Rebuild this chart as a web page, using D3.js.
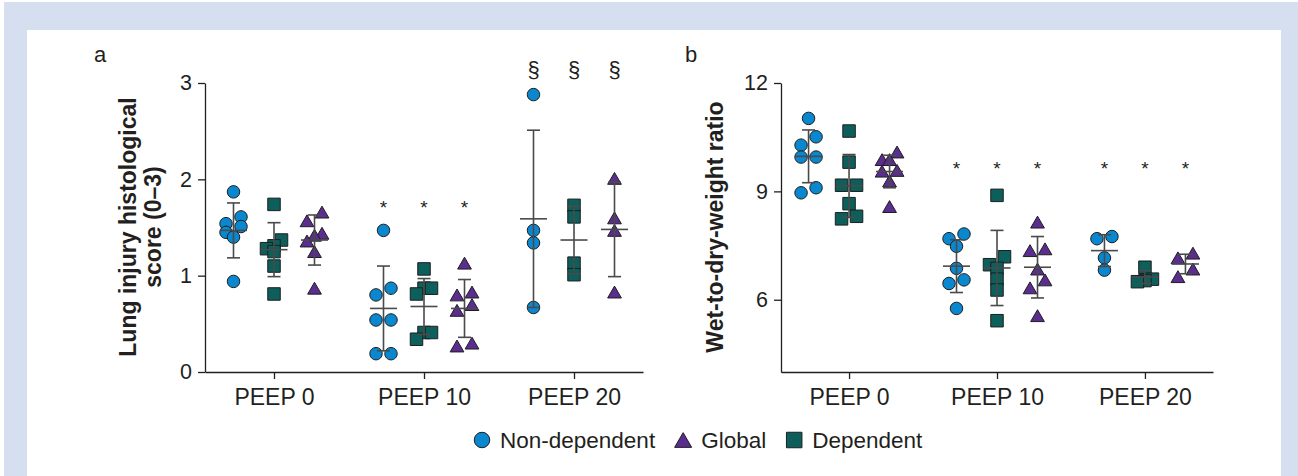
<!DOCTYPE html>
<html><head><meta charset="utf-8">
<script src="https://cdn.jsdelivr.net/npm/d3@7"></script>
<style>
body{margin:0;background:#fff}
svg{display:block}
text{font-family:"Liberation Sans",Arial,Helvetica,sans-serif;fill:#231f20}
</style>
</head><body>
<svg id="chart" width="1298" height="476"></svg>
<script>
// ---------------- DATA ----------------
const categories = ["PEEP 0", "PEEP 10", "PEEP 20"];
const seriesNames = ["Non-dependent", "Dependent", "Global"];
const legendOrder = ["Non-dependent", "Global", "Dependent"];

// Panel a: lung injury histological score (0–3)
const lungTicks = [0, 1, 2, 3];
const lungNonDependent = [
  [1.87, 1.61, 1.54, 1.51, 1.45, 1.40, 0.94],
  [1.47, 0.87, 0.80, 0.54, 0.54, 0.19, 0.19],
  [2.88, 1.47, 1.34, 0.67]
];
const lungNonDependentMean = [1.47, 0.66, 1.59];
const lungNonDependentSD = [0.285, 0.44, 0.92];

const lungDependent = [
  [1.74, 1.37, 1.31, 1.28, 1.25, 1.10, 0.81],
  [1.07, 0.87, 0.87, 0.81, 0.41, 0.41, 0.34],
  [1.73, 1.61, 1.13, 1.01]
];
const lungDependentMean = [1.27, 0.68, 1.37];
const lungDependentSD = [0.28, 0.29, 0.35];

const lungGlobal = [
  [1.66, 1.57, 1.44, 1.42, 1.36, 1.25, 0.87],
  [1.13, 0.83, 0.80, 0.70, 0.64, 0.30, 0.27],
  [2.01, 1.60, 1.47, 0.83]
];
const lungGlobalMean = [1.37, 0.66, 1.48];
const lungGlobalSD = [0.26, 0.30, 0.49];

const lungMarks = ["", "*", "§"];
const lungMarkValues = [0, 1.77, 3.14];

// Panel b: wet-to-dry-weight ratio
const wetTicks = [6, 9, 12];
const wetNonDependent = [
  [11.02, 10.51, 10.28, 9.95, 9.95, 9.10, 8.96],
  [7.82, 7.69, 7.48, 6.87, 6.55, 6.45, 5.76],
  [7.75, 7.69, 7.16, 6.82]
];
const wetNonDependentMean = [9.97, 6.93, 7.36];
const wetNonDependentSD = [0.73, 0.73, 0.44];

const wetDependent = [
  [10.67, 9.81, 9.17, 9.17, 8.66, 8.31, 8.24],
  [8.89, 7.19, 6.97, 6.87, 6.57, 6.27, 5.42],
  [6.90, 6.57, 6.53, 6.50]
];
const wetDependentMean = [9.15, 6.88, 6.63];
const wetDependentSD = [0.87, 1.04, 0.18];

const wetGlobal = [
  [10.09, 9.88, 9.88, 9.58, 9.56, 9.29, 8.58],
  [8.15, 7.41, 7.36, 6.85, 6.55, 6.33, 5.56],
  [7.29, 7.16, 6.85, 6.64]
];
const wetGlobalMean = [9.55, 6.90, 6.99];
const wetGlobalSD = [0.45, 0.85, 0.27];

const wetMarks = ["", "*", "*"];
const wetMarkValues = [0, 9.8, 9.8];

// ---------------- STYLE ----------------
const colors = {"Non-dependent": "#0a88cf", "Dependent": "#0c5f5b", "Global": "#5a2d8f"};
const shapes = {"Non-dependent": "circle", "Dependent": "square", "Global": "triangle"};
const ink = "#231f20";
const barInk = "#4a4a4a";
const FONT = '"Liberation Sans",Arial,sans-serif';

const svg = d3.select("#chart");
svg.append("rect").attr("x", 4).attr("y", 2).attr("width", 1294).attr("height", 474).attr("fill", "#d5dff0");
svg.append("rect").attr("x", 27).attr("y", 30).attr("width", 1254).attr("height", 446).attr("fill", "#fff");

function shapePath(shape, s) {
  if (shape === "circle") { const r = s / 2; return `M${-r},0A${r},${r} 0 1,0 ${r},0A${r},${r} 0 1,0 ${-r},0Z`; }
  if (shape === "square") { const h = s / 2; return `M${-h},${-h}H${h}V${h}H${-h}Z`; }
  const w = s * 1.1 / 2, h = s * 0.95 / 2;
  return `M0,${-h}L${w},${h}L${-w},${h}Z`;
}

// group points of similar height into rows and spread them horizontally
function jitter(values, y, halfWidth, thresh) {
  const idx = values.map((v, i) => i).sort((a, b) => values[b] - values[a]);
  const off = new Array(values.length).fill(0);
  let row = [];
  let anchor = null;
  const flush = () => {
    row.sort((a, b) => values[a] - values[b]);
    const n = row.length;
    row.forEach((k, j) => { off[k] = n < 2 ? 0 : -halfWidth + 2 * halfWidth * j / (n - 1); });
    row = [];
  };
  idx.forEach(i => {
    const py = y(values[i]);
    if (anchor === null || Math.abs(py - anchor) > thresh) { flush(); anchor = py; }
    row.push(i);
  });
  flush();
  return off;
}

function drawPanel(cfg) {
  const g = svg.append("g");
  const x = d3.scalePoint().domain(categories).range([cfg.x0, cfg.x1]).padding(0.46);
  const y = d3.scaleLinear().domain(cfg.domain).range([372, 83]);

  // y axis
  const ya = g.append("g").attr("transform", `translate(${cfg.x0},0)`)
    .call(d3.axisLeft(y).tickValues(cfg.ticks).tickFormat(d3.format("d")).tickSize(7).tickPadding(6).tickSizeOuter(0));
  ya.select(".domain").attr("stroke", ink).attr("stroke-width", 1.3);
  ya.selectAll(".tick line").attr("stroke", ink).attr("stroke-width", 1.3);
  ya.selectAll(".tick text").attr("font-size", 21.5).attr("fill", ink).attr("font-family", FONT);

  // x axis
  const xa = g.append("g").attr("transform", `translate(0,372)`)
    .call(d3.axisBottom(x).tickSize(7).tickPadding(10).tickSizeOuter(0));
  xa.select(".domain").attr("stroke", ink).attr("stroke-width", 1.3);
  xa.selectAll(".tick line").attr("stroke", ink).attr("stroke-width", 1.3);
  xa.selectAll(".tick text").attr("font-size", 23).attr("fill", ink).attr("font-family", FONT);

  // titles
  cfg.titleLines.forEach((t, i) => {
    g.append("text").attr("transform", `translate(${cfg.titleX[i]},227) rotate(-90)`)
      .attr("text-anchor", "middle").attr("dominant-baseline", "central")
      .attr("font-size", 23).attr("font-weight", "bold").text(t);
  });
  g.append("text").attr("x", cfg.letterX).attr("y", 62).attr("font-size", 22).text(cfg.letter);

  const offsets = {"Non-dependent": -40.5, "Dependent": 0, "Global": 40.5};
  seriesNames.forEach(name => {
    const s = cfg.series[name];
    categories.forEach((c, ci) => {
      const cx = x(c) + offsets[name];
      const vals = s.values[ci];
      const off = jitter(vals, y, 7.5, 9);
      g.append("g").selectAll("path").data(vals).join("path")
        .attr("d", shapePath(shapes[name], 12.5))
        .attr("transform", (v, i) => `translate(${cx + off[i]},${y(v)})`)
        .attr("fill", colors[name]).attr("stroke", "#1e1e1e").attr("stroke-width", 1);
      const m = s.mean[ci], sd = s.sd[ci];
      const eb = g.append("g").attr("stroke", barInk).attr("stroke-width", 1.6).attr("fill", "none");
      eb.append("line").attr("x1", cx).attr("x2", cx).attr("y1", y(m + sd)).attr("y2", y(m - sd));
      eb.append("line").attr("x1", cx - 6.5).attr("x2", cx + 6.5).attr("y1", y(m + sd)).attr("y2", y(m + sd));
      eb.append("line").attr("x1", cx - 6.5).attr("x2", cx + 6.5).attr("y1", y(m - sd)).attr("y2", y(m - sd));
      eb.append("line").attr("x1", cx - 13.5).attr("x2", cx + 13.5).attr("y1", y(m)).attr("y2", y(m));
      const mk = cfg.marks[ci];
      if (mk) {
        g.append("text").attr("x", cx).attr("y", y(cfg.markValues[ci]))
          .attr("text-anchor", "middle").attr("dominant-baseline", "central")
          .attr("font-size", mk === "*" ? 19 : 22)
          .attr("dy", mk === "*" ? "0.3em" : "0")
          .text(mk);
      }
    });
  });
}

drawPanel({
  x0: 205, x1: 643, domain: [0, 3], ticks: lungTicks,
  titleLines: ["Lung injury histological", "score (0–3)"], titleX: [128, 153],
  letter: "a", letterX: 94,
  marks: lungMarks, markValues: lungMarkValues,
  series: {
    "Non-dependent": {values: lungNonDependent, mean: lungNonDependentMean, sd: lungNonDependentSD},
    "Dependent": {values: lungDependent, mean: lungDependentMean, sd: lungDependentSD},
    "Global": {values: lungGlobal, mean: lungGlobalMean, sd: lungGlobalSD}
  }
});
drawPanel({
  x0: 781, x1: 1213, domain: [4, 12], ticks: wetTicks,
  titleLines: ["Wet-to-dry-weight ratio"], titleX: [715],
  letter: "b", letterX: 685,
  marks: wetMarks, markValues: wetMarkValues,
  series: {
    "Non-dependent": {values: wetNonDependent, mean: wetNonDependentMean, sd: wetNonDependentSD},
    "Dependent": {values: wetDependent, mean: wetDependentMean, sd: wetDependentSD},
    "Global": {values: wetGlobal, mean: wetGlobalMean, sd: wetGlobalSD}
  }
});

// legend
const lg = svg.append("g");
let lx = 482;
legendOrder.forEach(name => {
  lg.append("path").attr("d", shapePath(shapes[name], 15.5)).attr("transform", `translate(${lx},440)`)
    .attr("fill", colors[name]).attr("stroke", "#1e1e1e").attr("stroke-width", 1);
  const t = lg.append("text").attr("x", lx + 18).attr("y", 440).attr("dominant-baseline", "central")
    .attr("font-size", 22.5).text(name);
  lx = lx + 18 + t.node().getComputedTextLength() + 28;
});
</script>
</body></html>
